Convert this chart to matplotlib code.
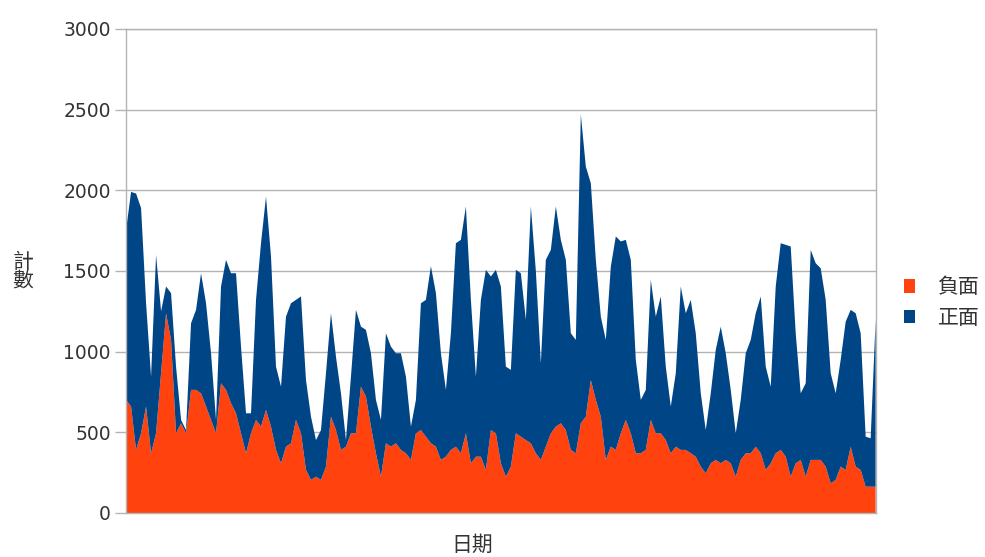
import matplotlib
matplotlib.use("Agg")
import matplotlib.pyplot as plt
from matplotlib.patches import Patch

plt.rcParams['font.family'] = ['DejaVu Sans', 'Noto Sans CJK TC']

# daily counts, bottom layer first
neg_counts = [
	701, 660, 391, 494, 660, 370, 494, 866, 1238, 1073, 494, 556, 494, 763, 763, 742, 660, 577, 494, 804,
	763, 680, 618, 494, 370, 494, 577, 535, 639, 535, 391,
	308, 411, 432, 577, 494, 267, 205, 225, 205, 287, 597, 514, 391, 411, 494, 494, 783, 721, 535, 370,
	225, 432, 411, 432, 391, 370, 329, 494, 514, 473,
	432, 411, 329, 349, 391, 411, 370, 494, 308, 349, 349, 267, 514, 494, 308, 225, 287, 494, 473, 452,
	432, 370, 329, 411, 494, 535, 556, 514, 391, 370,
	556, 597, 824, 701, 597, 329, 411, 391, 494, 577, 494, 370, 370, 391, 577, 494, 494, 452, 370, 411,
	391, 391, 370, 349, 287, 246, 308, 329, 308, 329,
	308, 225, 329, 370, 370, 411, 370, 267, 308, 370, 391, 349, 225, 308, 329, 225, 329, 329, 329, 287,
	184, 205, 287, 267, 411, 287, 267, 163, 163, 163,
]
total_counts = [
	1755, 1990, 1980, 1890, 1300, 845, 1600, 1250, 1404, 1363, 907, 577, 514, 1176, 1259, 1486, 1300, 990, 577, 1404,
	1569, 1486, 1486, 1031, 618, 618, 1321, 1672, 1961, 1590, 907,
	783, 1217, 1300, 1321, 1342, 824, 597, 452, 514, 866, 1238, 969, 742, 452, 845, 1259, 1155, 1135, 990, 701,
	577, 1114, 1031, 990, 990, 845, 535, 701, 1300, 1321,
	1530, 1363, 990, 763, 1114, 1672, 1693, 1900, 1321, 845, 1321, 1507, 1466, 1507, 1404, 907, 887, 1507, 1486, 1197,
	1900, 1500, 928, 1569, 1631, 1900, 1693, 1569, 1114, 1073,
	2470, 2147, 2044, 1569, 1217, 1073, 1527, 1714, 1683, 1693, 1569, 949, 701, 763, 1445, 1217, 1342, 907, 660, 866,
	1404, 1238, 1321, 1114, 742, 514, 742, 1011, 1155, 990,
	763, 494, 701, 990, 1073, 1238, 1342, 907, 783, 1404, 1672, 1662, 1652, 1114, 742, 804, 1631, 1548, 1517, 1321,
	866, 742, 949, 1186, 1259, 1238, 1114, 473, 463, 1200,
]
pos_counts = [t - n for t, n in zip(total_counts, neg_counts)]
series_names = ['負面', '正面']
series_colors = ['#ff420e', '#004586']
yticks = [0, 500, 1000, 1500, 2000, 2500, 3000]

grid_c = '#b3b3b3'
text_c = '#333333'

fig = plt.figure(figsize=(9.85, 5.57), dpi=100)
ax = fig.add_axes([0.128, 0.079, 0.761, 0.869])

days = list(range(len(neg_counts)))
ax.stackplot(days, neg_counts, pos_counts, colors=series_colors, linewidth=0)

ax.set_xlim(0, len(days) - 1)
ax.set_ylim(0, 3000)
ax.set_yticks(yticks)
ax.set_yticklabels([str(v) for v in yticks], fontsize=13.5, color=text_c)
ax.set_xticks([])
ax.tick_params(axis='y', length=8, width=1, color=grid_c, pad=3)
ax.yaxis.grid(True, color=grid_c, linewidth=1)
ax.set_axisbelow(True)
for side in ['left', 'right', 'top', 'bottom']:
	ax.spines[side].set_color(grid_c)
	ax.spines[side].set_linewidth(1)

fig.text(0.023, 0.513, '計\n數', fontsize=15, color=text_c, ha='center', va='center', linespacing=0.95)
fig.text(0.479, 0.022, '日期', fontsize=15, color=text_c, ha='center', va='center')

handles = [Patch(facecolor=c, edgecolor='none') for c in series_colors]
fig.legend(handles, series_names, loc='center left', bbox_to_anchor=(0.918, 0.457), frameon=False,
	fontsize=15, handlelength=0.5, handleheight=0.62, handletextpad=1.1, labelspacing=0.5,
	borderpad=0, borderaxespad=0, labelcolor=text_c)

plt.savefig('out.png', dpi=100)
